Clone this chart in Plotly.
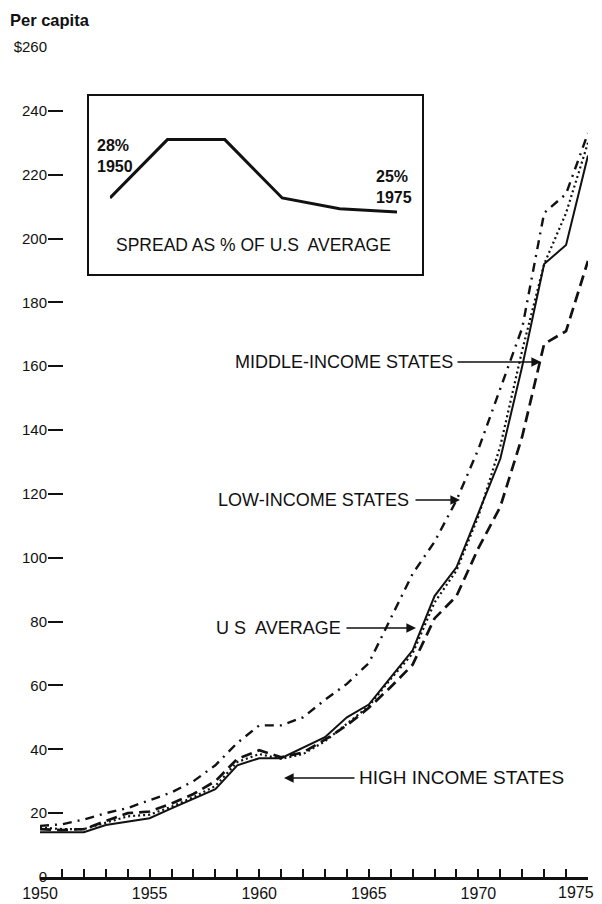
import plotly.graph_objects as go

# ---------------- data ----------------
years = list(range(1950, 1976))

us_average = [14, 14, 14, 16.3, 17.4, 18.4, 21.5, 24.5, 27.5, 35, 37.2, 37.2, 40.6,
              43.8, 50, 54, 62.5, 71, 88, 97, 114, 131, 160, 192, 198, 226]
middle_income = [15, 14.7, 15, 17.5, 20, 20.5, 23, 26, 30, 37, 39.7, 37.5, 39,
                 43, 47.5, 53, 59.5, 66.5, 81, 88, 103, 116, 138, 167, 171, 193]
low_income = [16, 16.5, 18, 20, 21.6, 24, 26.5, 30, 35, 42, 47.5, 47.5, 50,
              55.5, 60.5, 67, 81, 95, 105, 118, 134, 153, 172, 208, 214, 233]
high_income = [15.5, 15, 15, 17, 19, 19.5, 22, 25, 28.5, 36, 38.5, 37, 38.5,
               42.5, 48, 53.5, 62, 70, 86, 96, 113, 135, 165, 192, 208, 230]

spread_years = [1950, 1955, 1960, 1965, 1970, 1975]
spread_pct = [28, 40.5, 40.5, 28, 25.7, 25]

y_tick_vals = [0, 20, 40, 60, 80, 100, 120, 140, 160, 180, 200, 220, 240, 260]
y_tick_text = ["0", "20", "40", "60", "80", "100", "120", "140", "160", "180",
               "200", "220", "240", "$260"]
x_tick_vals = [1950, 1955, 1960, 1965, 1970, 1975]
x_tick_text = ["1950", "1955", "1960", "1965", "1970", "1975"]

# ---------------- layout geometry ----------------
# The page body has an 8px margin, so figure pixel = screen pixel - 8.
OFF = 8
W, H = 602 - OFF, 904 - OFF
# target screen positions: 1950 -> x 40, 1975 -> x 588, $0 -> y 877, $260 -> y 47
ML = 40 - OFF
MR = W - (588 - OFF)
MT = 47 - OFF
MB = H - (877 - OFF)
PW = W - ML - MR
PH = H - MT - MB
X0, X1 = 1950, 1975
Y0, Y1 = 0, 260


def px_x(s):
    """screen x pixel -> paper fraction"""
    return (s - OFF - ML) / PW


def px_y(s):
    """screen y pixel -> paper fraction"""
    return (H - MB - (s - OFF)) / PH


def yr(s):
    return X0 + (s - OFF - ML) * (X1 - X0) / PW


def val(s):
    return (H - MB - (s - OFF)) * (Y1 - Y0) / PH


FONT = "Liberation Sans, Arial, Helvetica, sans-serif"
BLACK = "#111111"

fig = go.Figure()

fig.add_trace(go.Scatter(x=years, y=low_income, mode="lines", name="Low-income",
                         line=dict(color=BLACK, width=2.4, dash="9px,6px,2px,6px")))
fig.add_trace(go.Scatter(x=years, y=middle_income, mode="lines", name="Middle-income",
                         line=dict(color=BLACK, width=2.7, dash="11px,6px")))
fig.add_trace(go.Scatter(x=years, y=high_income, mode="lines", name="High income",
                         line=dict(color=BLACK, width=2.2, dash="2px,3px")))
fig.add_trace(go.Scatter(x=years, y=us_average, mode="lines", name="US average",
                         line=dict(color=BLACK, width=2)))

# inset line
fig.add_trace(go.Scatter(x=spread_years, y=spread_pct, mode="lines",
                         xaxis="x2", yaxis="y2",
                         line=dict(color=BLACK, width=3)))

# inset axes: 1950 -> screen x110, 1975 -> x397 ; 20% -> y235.3, 45% -> y118.6
fig.update_layout(
    xaxis2=dict(domain=[px_x(110), px_x(397)], range=[1950, 1975], visible=False,
                anchor="y2"),
    yaxis2=dict(domain=[px_y(235.3), px_y(118.6)], range=[20, 45], visible=False,
                anchor="x2"),
)

# the last year label sits at the page edge: drawn as an annotation kept inside
axis_tick_text = x_tick_text[:-1] + [""]

fig.update_layout(
    width=W, height=H,
    margin=dict(l=ML, r=MR, t=MT, b=MB, pad=0, autoexpand=False),
    paper_bgcolor="white", plot_bgcolor="white",
    showlegend=False,
    font=dict(family=FONT, color=BLACK, size=16),
    xaxis=dict(range=[X0 - 0.001, X1 + 0.001], tickvals=x_tick_vals,
               ticktext=axis_tick_text, automargin=False, ticklabeloverflow="allow",
               showgrid=False, zeroline=False, showline=True, linewidth=3,
               linecolor=BLACK, ticks="inside", ticklen=8, tickwidth=1.6,
               tickcolor=BLACK, tickfont=dict(size=16),
               minor=dict(dtick=1, ticks="inside", ticklen=8, tickwidth=1.6,
                          tickcolor=BLACK)),
    yaxis=dict(range=[Y0 - 0.01, Y1 + 0.01], tickvals=y_tick_vals, ticktext=y_tick_text,
               automargin=False, ticklabeloverflow="allow",
               anchor="free", position=px_x(47),
               showgrid=False, zeroline=False, showline=False,
               ticks="inside", ticklen=15, tickwidth=1.6, tickcolor=BLACK,
               tickfont=dict(size=15)),
)

# inset frame
fig.add_shape(type="rect", xref="paper", yref="paper",
              x0=px_x(88), x1=px_x(423), y0=px_y(275), y1=px_y(95),
              line=dict(color=BLACK, width=2), fillcolor="rgba(0,0,0,0)")

ann = []
# header
ann.append(dict(xref="paper", yref="paper", x=px_x(8), y=px_y(9), xanchor="left",
                yanchor="top", text="<b>Per capita</b>", showarrow=False,
                font=dict(size=16.5)))
# last x tick label
ann.append(dict(xref="paper", yref="paper", x=px_x(596), y=px_y(893), xanchor="right",
                yanchor="middle", text=x_tick_text[-1], showarrow=False,
                font=dict(size=16)))
# inset texts
ann.append(dict(xref="paper", yref="paper", x=px_x(95), y=px_y(156), xanchor="left",
                yanchor="middle", align="left", text="<b>28%<br>1950</b>",
                showarrow=False, font=dict(size=16)))
ann.append(dict(xref="paper", yref="paper", x=px_x(414), y=px_y(187), xanchor="right",
                yanchor="middle", align="left", text="<b>25%<br>1975</b>",
                showarrow=False, font=dict(size=16)))
ann.append(dict(xref="paper", yref="paper", x=px_x(253), y=px_y(245), xanchor="center",
                yanchor="middle", text="SPREAD AS % OF U.S  AVERAGE",
                showarrow=False, font=dict(size=17.5)))

labels = [
    # text, text screen-x anchor, anchor side, screen y, arrow tail x, arrow tip x, size
    ("MIDDLE-INCOME STATES", 455, "right", 362, 456, 541, 18),
    ("LOW-INCOME STATES", 411, "right", 500, 414, 460, 18),
    ("U S  AVERAGE", 343, "right", 628, 345, 416, 18),
    ("HIGH INCOME STATES", 357, "left", 778, 356, 284, 19),
]
for text, tx, side, ty, tail, tip, sz in labels:
    ann.append(dict(x=yr(tx), y=val(ty), xref="x", yref="y", text=text,
                    xanchor=side, yanchor="middle", showarrow=False,
                    font=dict(size=sz)))
    ann.append(dict(x=yr(tip), y=val(ty), ax=yr(tail), ay=val(ty), xref="x", yref="y",
                    axref="x", ayref="y", text="", showarrow=True, arrowhead=2,
                    arrowsize=1.2, arrowwidth=1.6, arrowcolor=BLACK))

fig.update_layout(annotations=ann)

fig.write_html("out.html")
